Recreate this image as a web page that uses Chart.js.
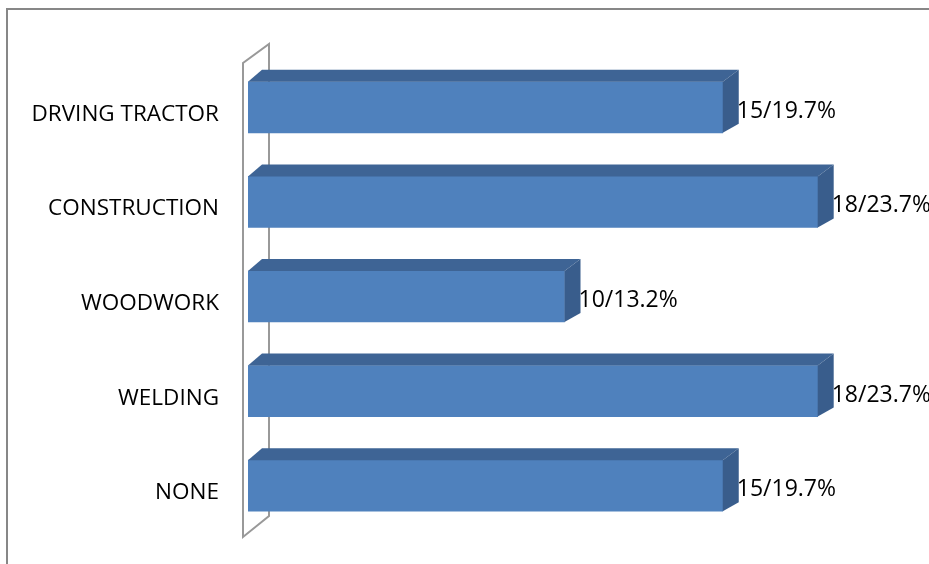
<!DOCTYPE html>
<html lang="en">
<head>
    <meta charset="UTF-8">
    <title>Skills</title>
    <script src="https://cdn.jsdelivr.net/npm/chart.js"></script>
    <style>
        body { margin: 0; background: #fff; }
    </style>
</head>
<body>
    <canvas id="skillsChart" width="929" height="564"></canvas>

    <script>
        const categories = ['DRVING TRACTOR', 'CONSTRUCTION', 'WOODWORK', 'WELDING', 'NONE'];
        const counts = [15, 18, 10, 18, 15];
        const percents = ['19.7%', '23.7%', '13.2%', '23.7%', '19.7%'];

        const FONT = '"Open Sans", sans-serif';
        const DEPTH_X = 16, DEPTH_Y = -12;

        // frame, 3d wall, bar faces and value labels
        const boxPlugin = {
            id: 'box3d',
            beforeDraw(chart) {
                const ctx = chart.ctx;
                ctx.save();
                ctx.fillStyle = '#fff';
                ctx.fillRect(0, 0, chart.width, chart.height);
                ctx.strokeStyle = '#878787';
                ctx.lineWidth = 2;
                ctx.strokeRect(7, 9, 1200, 1200);
                ctx.restore();
            },
            beforeDatasetsDraw(chart) {
                const ctx = chart.ctx;
                const a = chart.chartArea;
                const fx = a.left - 5, bx = a.left + 21;
                const ft = a.top + 3, fb = a.bottom + 4;
                ctx.save();
                ctx.strokeStyle = '#999';
                ctx.lineWidth = 2;
                ctx.beginPath();
                ctx.moveTo(fx, fb);
                ctx.lineTo(fx, ft);
                ctx.lineTo(bx, ft - 19);
                ctx.lineTo(bx, fb - 21);
                ctx.closePath();
                ctx.stroke();
                ctx.restore();
            },
            afterDatasetsDraw(chart) {
                const ctx = chart.ctx;
                const meta = chart.getDatasetMeta(0);
                ctx.save();
                meta.data.forEach((bar, i) => {
                    const l = bar.base, r = bar.x;
                    const t = bar.y - bar.height / 2, b = bar.y + bar.height / 2;
                    // top face
                    ctx.fillStyle = '#3E6495';
                    ctx.beginPath();
                    ctx.moveTo(l, t);
                    ctx.lineTo(l + DEPTH_X - 2, t + DEPTH_Y);
                    ctx.lineTo(r + DEPTH_X, t + DEPTH_Y);
                    ctx.lineTo(r, t);
                    ctx.closePath();
                    ctx.fill();
                    // right face
                    ctx.fillStyle = '#395D8C';
                    ctx.beginPath();
                    ctx.moveTo(r, t);
                    ctx.lineTo(r + DEPTH_X, t + DEPTH_Y);
                    ctx.lineTo(r + DEPTH_X, b - 9);
                    ctx.lineTo(r, b);
                    ctx.closePath();
                    ctx.fill();
                    // value label
                    ctx.fillStyle = '#000';
                    ctx.font = '23px ' + FONT;
                    ctx.textAlign = 'left';
                    ctx.textBaseline = 'middle';
                    ctx.fillText(counts[i] + '/' + percents[i], r + DEPTH_X - 2, bar.y + 4);
                });
                ctx.restore();
            }
        };

        new Chart(document.getElementById('skillsChart'), {
            type: 'bar',
            data: {
                labels: categories,
                datasets: [{
                    data: counts,
                    backgroundColor: '#4F81BD',
                    borderWidth: 0,
                    barThickness: 51
                }]
            },
            options: {
                indexAxis: 'y',
                responsive: false,
                animation: false,
                layout: { padding: { top: 60, bottom: 31, right: 48, left: 0 } },
                plugins: {
                    legend: { display: false },
                    tooltip: { enabled: false }
                },
                scales: {
                    x: {
                        display: false,
                        min: 0,
                        max: 20
                    },
                    y: {
                        afterFit(scale) {
                            scale.width = 248;
                            scale.paddingTop = 0;
                            scale.paddingBottom = 0;
                        },
                        grid: { display: false, drawTicks: false },
                        border: { display: false },
                        ticks: {
                            color: '#000',
                            padding: 29,
                            labelOffset: 7,
                            font: { family: FONT, size: 22.5 }
                        }
                    }
                }
            },
            plugins: [boxPlugin]
        });
    </script>
</body>
</html>
